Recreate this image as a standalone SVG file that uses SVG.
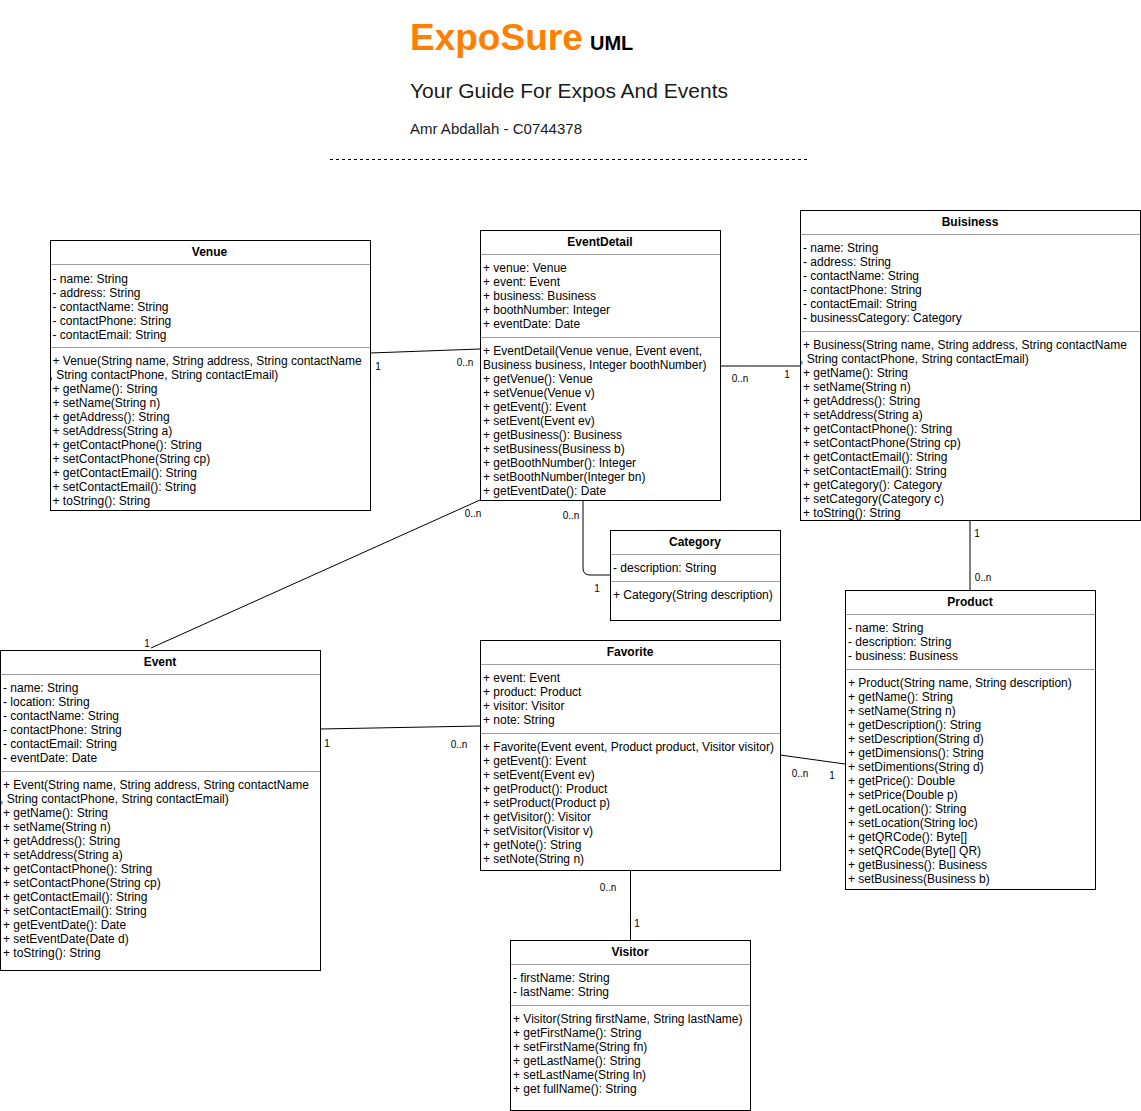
<svg xmlns="http://www.w3.org/2000/svg" width="1141" height="1111" viewBox="0 0 1141 1111">
<style>
.box{fill:#fff;stroke:#000;stroke-width:1}
.sep{stroke:#a0a0a0;stroke-width:1}
.t{font-family:"Liberation Sans",Arial,sans-serif;font-size:12px;fill:#000}
.h{font-family:"Liberation Sans",Arial,sans-serif;font-size:12px;font-weight:bold;fill:#000;text-anchor:middle}
.lbl{font-family:"Liberation Sans",Arial,sans-serif;font-size:10px;fill:#000;text-anchor:middle}
.conn{fill:none;stroke:#000;stroke-width:1}
</style>
<rect width="1141" height="1111" fill="#fff"/>
<g id="header">
<text x="410" y="50" font-family="Liberation Sans,Arial,sans-serif" font-size="37" font-weight="bold" fill="#ff8000">ExpoSure</text>
<text x="590" y="50" font-family="Liberation Sans,Arial,sans-serif" font-size="20" font-weight="bold" fill="#000">UML</text>
<text x="410" y="98" font-family="Liberation Sans,Arial,sans-serif" font-size="21" fill="#1a1a1a" textLength="318" lengthAdjust="spacingAndGlyphs">Your Guide For Expos And Events</text>
<text x="410" y="134" font-family="Liberation Sans,Arial,sans-serif" font-size="15" fill="#1a1a1a" textLength="172" lengthAdjust="spacingAndGlyphs">Amr Abdallah - C0744378</text>
<line x1="330" y1="159.5" x2="808" y2="159.5" stroke="#000" stroke-dasharray="3,3"/>
</g>
<g id="connectors">
<line class="conn" x1="370" y1="353" x2="480" y2="349"/>
<line class="conn" x1="720" y1="366" x2="800" y2="366"/>
<line class="conn" x1="480" y1="500" x2="151" y2="648"/>
<path class="conn" d="M583,500 V568 Q583,575 590,575 H610"/>
<line class="conn" x1="320" y1="729" x2="480" y2="726"/>
<line class="conn" x1="780" y1="755" x2="845" y2="764"/>
<line class="conn" x1="970" y1="520" x2="970" y2="590"/>
<line class="conn" x1="630.5" y1="870" x2="630.5" y2="940"/>
<text class="lbl" x="378" y="369.5">1</text>
<text class="lbl" x="465" y="365.5">0..n</text>
<text class="lbl" x="740" y="381.5">0..n</text>
<text class="lbl" x="787" y="377.5">1</text>
<text class="lbl" x="473" y="516.5">0..n</text>
<text class="lbl" x="147" y="646.5">1</text>
<text class="lbl" x="571" y="518.5">0..n</text>
<text class="lbl" x="597" y="591.5">1</text>
<text class="lbl" x="327" y="746.5">1</text>
<text class="lbl" x="459" y="747.5">0..n</text>
<text class="lbl" x="800" y="776.5">0..n</text>
<text class="lbl" x="832" y="778.5">1</text>
<text class="lbl" x="977" y="536.5">1</text>
<text class="lbl" x="983" y="580.5">0..n</text>
<text class="lbl" x="608" y="890.5">0..n</text>
<text class="lbl" x="637" y="926.5">1</text>
</g>
<g id="venue">
<rect class="box" x="50.5" y="240.5" width="320" height="270"/>
<line class="sep" x1="51" y1="264.5" x2="370" y2="264.5"/>
<line class="sep" x1="51" y1="347.5" x2="370" y2="347.5"/>
<g transform="translate(-0.5,1)">
<text class="h" x="210" y="255">Venue</text>
<text class="t"><tspan x="53" y="282">- name: String</tspan><tspan x="53" y="296">- address: String</tspan><tspan x="53" y="310">- contactName: String</tspan><tspan x="53" y="324">- contactPhone: String</tspan><tspan x="53" y="338">- contactEmail: String</tspan></text>
<text class="t"><tspan x="53" y="364">+ Venue(String name, String address, String contactName</tspan><tspan x="50" y="378">, String contactPhone, String contactEmail)</tspan><tspan x="53" y="392">+ getName(): String</tspan><tspan x="53" y="406">+ setName(String n)</tspan><tspan x="53" y="420">+ getAddress(): String</tspan><tspan x="53" y="434">+ setAddress(String a)</tspan><tspan x="53" y="448">+ getContactPhone(): String</tspan><tspan x="53" y="462">+ setContactPhone(String cp)</tspan><tspan x="53" y="476">+ getContactEmail(): String</tspan><tspan x="53" y="490">+ setContactEmail(): String</tspan><tspan x="53" y="504">+ toString(): String</tspan></text>
</g>
</g>
<g id="eventdetail">
<rect class="box" x="480.5" y="230.5" width="240" height="270"/>
<line class="sep" x1="481" y1="254.5" x2="720" y2="254.5"/>
<line class="sep" x1="481" y1="337.5" x2="720" y2="337.5"/>
<g transform="translate(0,1)">
<text class="h" x="600" y="245">EventDetail</text>
<text class="t"><tspan x="483" y="271">+ venue: Venue</tspan><tspan x="483" y="285">+ event: Event</tspan><tspan x="483" y="299">+ business: Business</tspan><tspan x="483" y="313">+ boothNumber: Integer</tspan><tspan x="483" y="327">+ eventDate: Date</tspan></text>
<text class="t"><tspan x="483" y="354">+ EventDetail(Venue venue, Event event,</tspan><tspan x="483" y="368">Business business, Integer boothNumber)</tspan><tspan x="483" y="382">+ getVenue(): Venue</tspan><tspan x="483" y="396">+ setVenue(Venue v)</tspan><tspan x="483" y="410">+ getEvent(): Event</tspan><tspan x="483" y="424">+ setEvent(Event ev)</tspan><tspan x="483" y="438">+ getBusiness(): Business</tspan><tspan x="483" y="452">+ setBusiness(Business b)</tspan><tspan x="483" y="466">+ getBoothNumber(): Integer</tspan><tspan x="483" y="480">+ setBoothNumber(Integer bn)</tspan><tspan x="483" y="494">+ getEventDate(): Date</tspan></text>
</g>
</g>
<g id="business">
<rect class="box" x="800.5" y="210.5" width="340" height="310"/>
<line class="sep" x1="801" y1="234.5" x2="1140" y2="234.5"/>
<line class="sep" x1="801" y1="331.5" x2="1140" y2="331.5"/>
<g transform="translate(0,1)">
<text class="h" x="970" y="225">Buisiness</text>
<text class="t"><tspan x="803" y="251">- name: String</tspan><tspan x="803" y="265">- address: String</tspan><tspan x="803" y="279">- contactName: String</tspan><tspan x="803" y="293">- contactPhone: String</tspan><tspan x="803" y="307">- contactEmail: String</tspan><tspan x="803" y="321">- businessCategory: Category</tspan></text>
<text class="t"><tspan x="803" y="348">+ Business(String name, String address, String contactName</tspan><tspan x="800" y="362">, String contactPhone, String contactEmail)</tspan><tspan x="803" y="376">+ getName(): String</tspan><tspan x="803" y="390">+ setName(String n)</tspan><tspan x="803" y="404">+ getAddress(): String</tspan><tspan x="803" y="418">+ setAddress(String a)</tspan><tspan x="803" y="432">+ getContactPhone(): String</tspan><tspan x="803" y="446">+ setContactPhone(String cp)</tspan><tspan x="803" y="460">+ getContactEmail(): String</tspan><tspan x="803" y="474">+ setContactEmail(): String</tspan><tspan x="803" y="488">+ getCategory(): Category</tspan><tspan x="803" y="502">+ setCategory(Category c)</tspan><tspan x="803" y="516">+ toString(): String</tspan></text>
</g>
</g>
<g id="category">
<rect class="box" x="610.5" y="530.5" width="170" height="90"/>
<line class="sep" x1="611" y1="554.5" x2="780" y2="554.5"/>
<line class="sep" x1="611" y1="581.5" x2="780" y2="581.5"/>
<g transform="translate(0,1)">
<text class="h" x="695" y="545">Category</text>
<text class="t" x="613" y="571">- description: String</text>
<text class="t" x="613" y="598">+ Category(String description)</text>
</g>
</g>
<g id="event">
<rect class="box" x="0.5" y="650.5" width="320" height="320"/>
<line class="sep" x1="1" y1="674.5" x2="320" y2="674.5"/>
<line class="sep" x1="1" y1="771.5" x2="320" y2="771.5"/>
<g transform="translate(0,1)">
<text class="h" x="160" y="665">Event</text>
<text class="t"><tspan x="3" y="691">- name: String</tspan><tspan x="3" y="705">- location: String</tspan><tspan x="3" y="719">- contactName: String</tspan><tspan x="3" y="733">- contactPhone: String</tspan><tspan x="3" y="747">- contactEmail: String</tspan><tspan x="3" y="761">- eventDate: Date</tspan></text>
<text class="t"><tspan x="3" y="788">+ Event(String name, String address, String contactName</tspan><tspan x="0" y="802">, String contactPhone, String contactEmail)</tspan><tspan x="3" y="816">+ getName(): String</tspan><tspan x="3" y="830">+ setName(String n)</tspan><tspan x="3" y="844">+ getAddress(): String</tspan><tspan x="3" y="858">+ setAddress(String a)</tspan><tspan x="3" y="872">+ getContactPhone(): String</tspan><tspan x="3" y="886">+ setContactPhone(String cp)</tspan><tspan x="3" y="900">+ getContactEmail(): String</tspan><tspan x="3" y="914">+ setContactEmail(): String</tspan><tspan x="3" y="928">+ getEventDate(): Date</tspan><tspan x="3" y="942">+ setEventDate(Date d)</tspan><tspan x="3" y="956">+ toString(): String</tspan></text>
</g>
</g>
<g id="favorite">
<rect class="box" x="480.5" y="640.5" width="300" height="230"/>
<line class="sep" x1="481" y1="664.5" x2="780" y2="664.5"/>
<line class="sep" x1="481" y1="733.5" x2="780" y2="733.5"/>
<g transform="translate(0,1)">
<text class="h" x="630" y="655">Favorite</text>
<text class="t"><tspan x="483" y="681">+ event: Event</tspan><tspan x="483" y="695">+ product: Product</tspan><tspan x="483" y="709">+ visitor: Visitor</tspan><tspan x="483" y="723">+ note: String</tspan></text>
<text class="t"><tspan x="483" y="750">+ Favorite(Event event, Product product, Visitor visitor)</tspan><tspan x="483" y="764">+ getEvent(): Event</tspan><tspan x="483" y="778">+ setEvent(Event ev)</tspan><tspan x="483" y="792">+ getProduct(): Product</tspan><tspan x="483" y="806">+ setProduct(Product p)</tspan><tspan x="483" y="820">+ getVisitor(): Visitor</tspan><tspan x="483" y="834">+ setVisitor(Visitor v)</tspan><tspan x="483" y="848">+ getNote(): String</tspan><tspan x="483" y="862">+ setNote(String n)</tspan></text>
</g>
</g>
<g id="product">
<rect class="box" x="845.5" y="590.5" width="250" height="299"/>
<line class="sep" x1="846" y1="614.5" x2="1095" y2="614.5"/>
<line class="sep" x1="846" y1="669.5" x2="1095" y2="669.5"/>
<g transform="translate(0,1)">
<text class="h" x="970" y="605">Product</text>
<text class="t"><tspan x="848" y="631">- name: String</tspan><tspan x="848" y="645">- description: String</tspan><tspan x="848" y="659">- business: Business</tspan></text>
<text class="t"><tspan x="848" y="686">+ Product(String name, String description)</tspan><tspan x="848" y="700">+ getName(): String</tspan><tspan x="848" y="714">+ setName(String n)</tspan><tspan x="848" y="728">+ getDescription(): String</tspan><tspan x="848" y="742">+ setDescription(String d)</tspan><tspan x="848" y="756">+ getDimensions(): String</tspan><tspan x="848" y="770">+ setDimentions(String d)</tspan><tspan x="848" y="784">+ getPrice(): Double</tspan><tspan x="848" y="798">+ setPrice(Double p)</tspan><tspan x="848" y="812">+ getLocation(): String</tspan><tspan x="848" y="826">+ setLocation(String loc)</tspan><tspan x="848" y="840">+ getQRCode(): Byte[]</tspan><tspan x="848" y="854">+ setQRCode(Byte[] QR)</tspan><tspan x="848" y="868">+ getBusiness(): Business</tspan><tspan x="848" y="882">+ setBusiness(Business b)</tspan></text>
</g>
</g>
<g id="visitor">
<rect class="box" x="510.5" y="940.5" width="240" height="170"/>
<line class="sep" x1="511" y1="964.5" x2="750" y2="964.5"/>
<line class="sep" x1="511" y1="1005.5" x2="750" y2="1005.5"/>
<g transform="translate(0,1)">
<text class="h" x="630" y="955">Visitor</text>
<text class="t"><tspan x="513" y="981">- firstName: String</tspan><tspan x="513" y="995">- lastName: String</tspan></text>
<text class="t"><tspan x="513" y="1022">+ Visitor(String firstName, String lastName)</tspan><tspan x="513" y="1036">+ getFirstName(): String</tspan><tspan x="513" y="1050">+ setFirstName(String fn)</tspan><tspan x="513" y="1064">+ getLastName(): String</tspan><tspan x="513" y="1078">+ setLastName(String ln)</tspan><tspan x="513" y="1092">+ get fullName(): String</tspan></text>
</g>
</g>
</svg>
